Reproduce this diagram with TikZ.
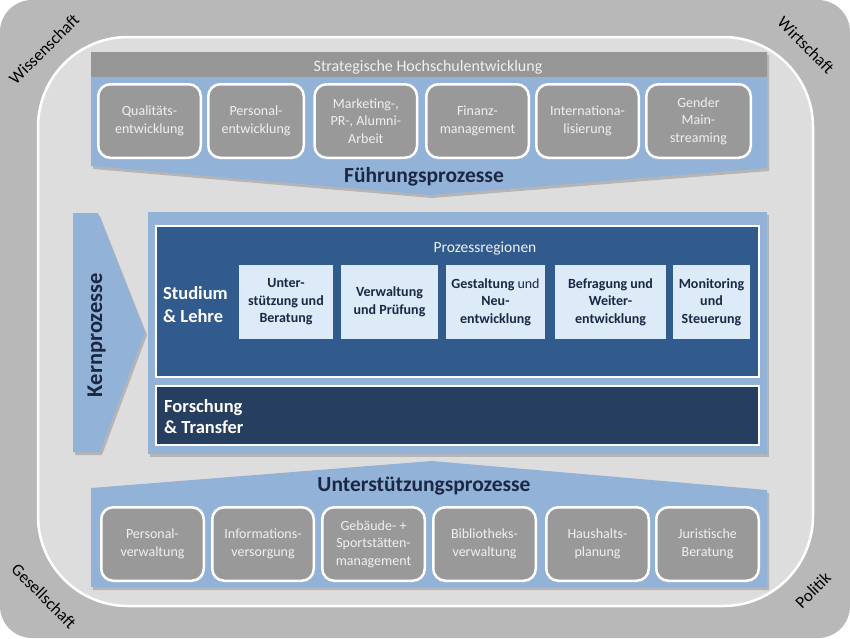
\documentclass[tikz,border=0pt]{standalone}
\usepackage{fontspec}
\setmainfont{Carlito}
\definecolor{outergray}{RGB}{184,184,184}
\definecolor{innergray}{RGB}{221,221,221}
\definecolor{bandblue}{RGB}{147,178,215}
\definecolor{boxgray}{RGB}{153,153,153}
\definecolor{headgray}{RGB}{150,150,150}
\definecolor{studblue}{RGB}{49,91,141}
\definecolor{forschblue}{RGB}{38,62,96}
\definecolor{paleblue}{RGB}{221,234,248}
\definecolor{navy}{RGB}{26,40,68}
\definecolor{boxtext}{RGB}{240,240,240}
\begin{document}
\begin{tikzpicture}[x=1pt,y=-1pt,
  gbox/.style={draw=white, line width=2.5pt, fill=boxgray, rounded corners=12pt,
    text=boxtext, align=center, inner sep=0pt, minimum height=73.5pt,
    font=\fontsize{14}{17.5}\selectfont},
  pbox/.style={fill=paleblue, draw=none, text=navy, align=center, inner sep=0pt,
    minimum height=74pt, font=\bfseries\fontsize{14}{17.5}\selectfont},
  corner/.style={font=\fontsize{17}{20}\selectfont, text=black},
  bigtitle/.style={font=\bfseries\fontsize{21.5}{24}\selectfont, text=navy},
  shadowfill/.style={fill=black, opacity=0.18},
  region/.style={draw=white, line width=2pt, inner sep=0pt}]
\useasboundingbox (0,0) rectangle (850,638);
\fill[white] (0,0) rectangle (850,638);
\fill[outergray, rounded corners=32pt] (0,0) rectangle (850,638);
\draw[white, line width=2.5pt, fill=innergray, rounded corners=90pt] (38,37) rectangle (813,606);

% corner labels
\node[corner, rotate=45] (wiss) at (44,49) {Wissenschaft};
\node[corner, rotate=-45] (wirt) at (806,45) {Wirtschaft};
\node[corner, rotate=-45] (ges) at (44,596) {Gesellschaft};
\node[corner, rotate=45] (pol) at (813,590) {Politik};

% top band: Fuehrungsprozesse
\begin{scope}[shift={(2,3)}]
\fill[shadowfill] (91,52) -- (767,52) -- (767,168) -- (430,195) -- (91,166) -- cycle;
\end{scope}
\fill[bandblue] (91,52) -- (767,52) -- (767,168) -- (430,195) -- (91,166) -- cycle;
\fill[headgray] (91,52) rectangle (767,77);
\node[text=boxtext, font=\fontsize{16}{19}\selectfont, anchor=base] (strat) at (428,71) {Strategische Hochschulentwicklung};

\node[gbox, minimum width=102.5pt] (q) at (149.5,121) {Qualitäts-\\entwicklung};
\node[gbox, minimum width=95.5pt] (pe) at (256,121) {Personal-\\entwicklung};
\node[gbox, minimum width=102.5pt] (mk) at (365.8,121) {Marketing-,\\PR-, Alumni-\\Arbeit};
\node[gbox, minimum width=102.5pt] (fm) at (477.5,121) {Finanz-\\management};
\node[gbox, minimum width=102.5pt] (in) at (587.5,121) {Internationa-\\lisierung};
\node[gbox, minimum width=104.5pt] (gm) at (698.5,121) {Gender\\Main-\\streaming};
\node[bigtitle, anchor=base] (fp) at (424,182) {Führungsprozesse};

% Kernprozesse arrow
\begin{scope}[shift={(2,3)}]
\fill[shadowfill] (73,213) -- (98,213) -- (145,332) -- (100,452) -- (73,452) -- cycle;
\end{scope}
\fill[bandblue] (73,213) -- (98,213) -- (145,332) -- (100,452) -- (73,452) -- cycle;
\node[bigtitle, font=\bfseries\fontsize{22.5}{24}\selectfont, rotate=90, anchor=base] (kp) at (102,335) {Kernprozesse};

% core block
\fill[shadowfill] (150,215) rectangle (769,457);
\fill[bandblue] (148,212) rectangle (767,454);
\node[region, fill=studblue, minimum width=603pt, minimum height=151pt] (sl) at (457.5,301.5) {};
\node[region, fill=forschblue, minimum width=603pt, minimum height=59pt] (ft) at (457.5,415.5) {};
\node[text=boxtext, font=\fontsize{15.5}{18}\selectfont, anchor=base] (pr) at (485,252) {Prozessregionen};
\node[text=white, font=\bfseries\fontsize{18.5}{23}\selectfont, align=left, anchor=west, inner sep=0pt] (sltext) at (163,305) {Studium\\\& Lehre};
\node[text=white, font=\bfseries\fontsize{18.5}{21}\selectfont, align=left, anchor=west, inner sep=0pt] (fttext) at (164,417) {Forschung\\\& Transfer};

\node[pbox, minimum width=94pt] (r1) at (286,302) {Unter-\\stützung und\\Beratung};
\node[pbox, minimum width=97pt] (r2) at (389.5,302) {Verwaltung\\und Prüfung};
\node[pbox, minimum width=99pt] (r3) at (495.5,302) {Gestaltung {\mdseries und}\\Neu-\\entwicklung};
\node[pbox, minimum width=111pt] (r4) at (610.5,302) {Befragung und\\Weiter-\\entwicklung};
\node[pbox, minimum width=77pt] (r5) at (711.5,302) {Monitoring\\und\\Steuerung};

% bottom band: Unterstuetzungsprozesse
\begin{scope}[shift={(2,3)}]
\fill[shadowfill] (91,488) -- (432,461) -- (767,490) -- (767,587) -- (91,587) -- cycle;
\end{scope}
\fill[bandblue] (91,488) -- (432,461) -- (767,490) -- (767,587) -- (91,587) -- cycle;
\node[bigtitle, anchor=base] (up) at (424,491) {Unterstützungsprozesse};

\node[gbox, minimum width=102.5pt] (b1) at (152.5,544) {Personal-\\verwaltung};
\node[gbox, minimum width=101.5pt] (b2) at (263,544) {Informations-\\versorgung};
\node[gbox, minimum width=102.5pt] (b3) at (373.5,544) {Gebäude- +\\Sportstätten-\\management};
\node[gbox, minimum width=102.5pt] (b4) at (484.5,544) {Bibliotheks-\\verwaltung};
\node[gbox, minimum width=102.5pt] (b5) at (597.5,544) {Haushalts-\\planung};
\node[gbox, minimum width=102.5pt] (b6) at (707.5,544) {Juristische\\Beratung};
\end{tikzpicture}
\end{document}
